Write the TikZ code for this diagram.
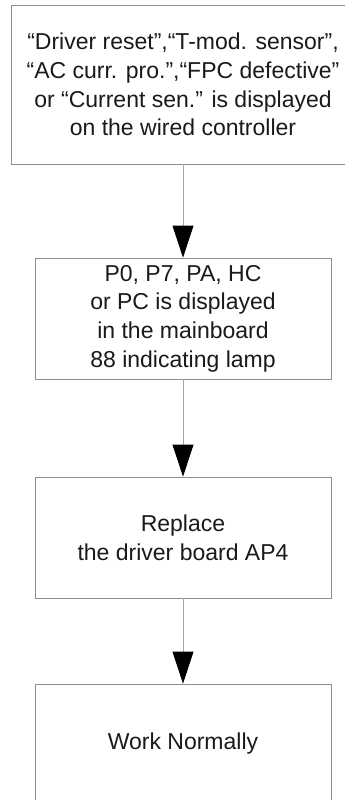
\documentclass[tikz,border=0pt]{standalone}
\usepackage{fontspec}
\setmainfont{Liberation Sans}
\usetikzlibrary{arrows.meta}
\definecolor{boxgray}{HTML}{8E8E8E}
\definecolor{linegray}{HTML}{A6A6A6}
\definecolor{txt}{HTML}{1A1A1A}
\tikzset{
  flowbox/.style={draw=boxgray, line width=0.9pt, fill=white, inner sep=0pt,
    align=center, text=txt, font=\fontsize{23}{28.7}\selectfont},
  conn/.style={draw=linegray, line width=0.9pt,
    -{Triangle[length=32pt,width=21pt,color=black]}}
}
\begin{document}
\begin{tikzpicture}[x=1pt,y=1pt]
\useasboundingbox (0,0) rectangle (345,-800);
\fill[white] (0,0) rectangle (345,-800);
\clip (0,0) rectangle (345,-800);
\node[flowbox, minimum width=344pt, minimum height=159pt] (b1) at (183,-84.5)
  {“Driver reset”,“T-mod. sensor”,\\“AC curr. pro.”,“FPC defective”\\or “Current sen.” is displayed\\on the wired controller};
\node[flowbox, minimum width=296pt, minimum height=121pt] (b2) at (183,-318.5)
  {P0, P7, PA, HC\\or PC is displayed\\in the mainboard\\88 indicating lamp};
\node[flowbox, minimum width=296pt, minimum height=121pt] (b3) at (183,-537.5)
  {Replace\\the driver board AP4};
\node[flowbox, minimum width=296pt, minimum height=119pt] (b4) at (183,-743.5)
  {Work Normally};
\draw[conn] (b1.south) -- (b2.north);
\draw[conn] (b2.south) -- (b3.north);
\draw[conn] (b3.south) -- (b4.north);
\end{tikzpicture}
\end{document}
